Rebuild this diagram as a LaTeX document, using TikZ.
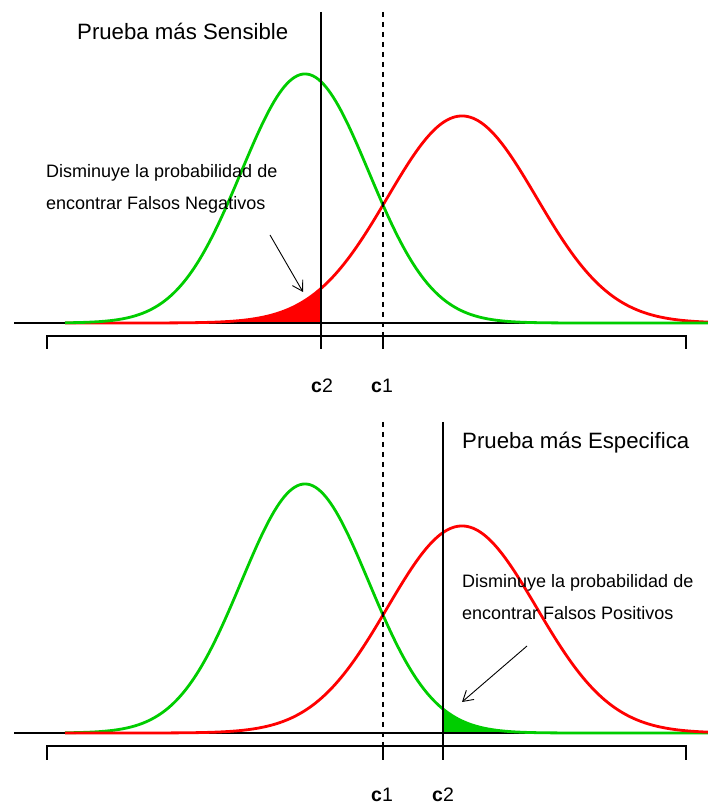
\documentclass[tikz,border=0pt]{standalone}
\usepackage{fontspec}
\setmainfont{Liberation Sans}
\usetikzlibrary{arrows.meta}
\definecolor{ggreen}{RGB}{0,205,0}
\definecolor{rred}{RGB}{255,0,0}
\begin{document}
\begin{tikzpicture}[x=1pt,y=1pt,
  declare function={gA(\x)=249*exp(-0.5*((\x-305)/63.8)*((\x-305)/63.8));
                    rA(\x)=207*exp(-0.5*((\x-462)/74.5)*((\x-462)/74.5));},
  curve/.style={line width=2.8pt},
  thin line/.style={line width=1.1pt, black},
  dashline/.style={line width=1.1pt, black, dash pattern=on 5pt off 5pt},
  arr/.style={line width=0.9pt, -{Straight Barb[length=10pt,width=12pt,line width=0.9pt]}},
  title/.style={inner sep=0pt, anchor=base west, font=\fontsize{22.2}{24}\selectfont},
  note/.style={inner sep=0pt, anchor=base west, font=\fontsize{18}{20}\selectfont},
  clab/.style={inner sep=0pt, anchor=base, font=\fontsize{19.5}{22}\selectfont}]
\useasboundingbox (0,0) rectangle (708,805);

% ===== Top panel =====
\coordinate (b1l) at (14,482);
\coordinate (b1r) at (708,482);
\fill[rred] (65,482) -- plot[domain=65:321,samples=150] (\x,{482+rA(\x)}) -- (321,482) -- cycle;
\draw[thin line] (b1l) -- (b1r);
\draw[curve, rred] plot[domain=65:708,samples=250] (\x,{482+rA(\x)});
\draw[curve, ggreen] plot[domain=65:708,samples=250] (\x,{482+gA(\x)});
% bracket axis
\coordinate (a1l) at (47,456);
\coordinate (a1lt) at (47,469);
\coordinate (a1rt) at (686,469);
\coordinate (a1r) at (686,456);
\draw[thin line] (a1l) -- (a1lt) -- (a1rt) -- (a1r);
% vertical lines
\coordinate (v1top) at (321,793);
\coordinate (v1bot) at (321,456);
\draw[thin line] (v1top) -- (v1bot);
\coordinate (d1top) at (383,793);
\coordinate (d1mid) at (383,469);
\coordinate (d1bot) at (383,456);
\draw[dashline] (d1top) -- (d1mid);
\draw[thin line] (d1mid) -- (d1bot);
% texts
\node[title] (t1) at (77,765) {Prueba más Sensible};
\node[note] (n1a) at (46,627) {Disminuye la probabilidad de};
\node[note] (n1b) at (46,595) {encontrar Falsos Negativos};
\node[clab] (c2a) at (322,412) {\textbf{c}2};
\node[clab] (c1a) at (382,412) {\textbf{c}1};
\coordinate (ar1s) at (270,570);
\coordinate (ar1e) at (303,513);
\draw[arr] (ar1s) -- (ar1e);

% ===== Bottom panel =====
\coordinate (b2l) at (14,72);
\coordinate (b2r) at (708,72);
\fill[ggreen] (443,72) -- plot[domain=443:708,samples=150] (\x,{72+gA(\x)}) -- (708,72) -- cycle;
\draw[thin line] (b2l) -- (b2r);
\draw[curve, ggreen] plot[domain=65:708,samples=250] (\x,{72+gA(\x)});
\draw[curve, rred] plot[domain=65:708,samples=250] (\x,{72+rA(\x)});
% bracket axis
\coordinate (a2l) at (47,45);
\coordinate (a2lt) at (47,59);
\coordinate (a2rt) at (686,59);
\coordinate (a2r) at (686,45);
\draw[thin line] (a2l) -- (a2lt) -- (a2rt) -- (a2r);
% vertical lines
\coordinate (d2top) at (383,383);
\coordinate (d2mid) at (383,59);
\coordinate (d2bot) at (383,45);
\draw[dashline] (d2top) -- (d2mid);
\draw[thin line] (d2mid) -- (d2bot);
\coordinate (v2top) at (443,383);
\coordinate (v2bot) at (443,45);
\draw[thin line] (v2top) -- (v2bot);
% texts
\node[title] (t2) at (462,356) {Prueba más Especifica};
\node[note] (n2a) at (462,217) {Disminuye la probabilidad de};
\node[note] (n2b) at (462,185) {encontrar Falsos Positivos};
\node[clab] (c1b) at (382,3) {\textbf{c}1};
\node[clab] (c2b) at (443,3) {\textbf{c}2};
\coordinate (ar2s) at (527,159);
\coordinate (ar2e) at (462,103);
\draw[arr] (ar2s) -- (ar2e);
\end{tikzpicture}
\end{document}
